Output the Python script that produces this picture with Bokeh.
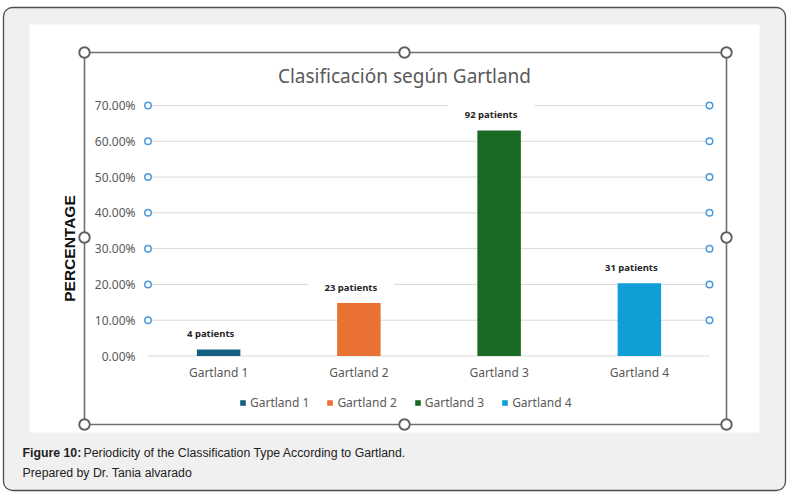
import math
from bokeh.plotting import figure
from bokeh.models import (Range1d, ColumnDataSource, PrintfTickFormatter, FixedTicker)
from bokeh.embed import file_html
from bokeh.resources import INLINE
from bokeh.core.properties import value

# ---------------- data ----------------
categories = ["Gartland 1", "Gartland 2", "Gartland 3", "Gartland 4"]
percentages = [1.8, 14.8, 63.0, 20.3]
patients = [4, 23, 92, 31]
colors = ["#156082", "#E97132", "#196B24", "#0F9ED5"]
y_ticks = [0, 10, 20, 30, 40, 50, 60, 70]
title_text = "Clasificación según Gartland"
y_label = "PERCENTAGE"
caption_bold = "Figure 10:"
caption_text = "Periodicity of the Classification Type According to Gartland."
credit_text = "Prepared by Dr. Tania alvarado"

# category slots on the x scale (one unit per category)
positions = [i + 0.5 for i in range(len(categories))]

# ---------------- layout (canvas pixels) ----------------
W, H = 800, 496
PL, PR = 148, 709          # plot-area left/right
Y0, Y70 = 355.5, 105.0     # pixel rows of 0% and 70%
ppu_y = (Y0 - Y70) / 70.0
ppu_x = (PR - PL) / len(categories)


def dx(px):
    return (px - PL) / ppu_x


def dy(py):
    return (Y0 - py) / ppu_y


p = figure(width=W, height=H,
           x_range=Range1d(dx(0), dx(W)), y_range=Range1d(dy(H), dy(0)),
           output_backend="svg", toolbar_location=None,
           min_border=0)
p.title.visible = False
p.border_fill_color = "white"
p.background_fill_color = "white"
p.outline_line_color = None
p.xgrid.visible = False
p.ygrid.visible = False

# ---------------- decorations (drawn first, underneath) ----------------
p.quad(left=dx(3), right=dx(785), top=dy(7), bottom=dy(490),
       fill_color="#f0f0f0", line_color="#4d4d4d", line_width=1.3,
       border_radius=9)
p.quad(left=dx(29), right=dx(759), top=dy(24), bottom=dy(432),
       fill_color="white", line_color=None)
p.quad(left=dx(84), right=dx(726), top=dy(52), bottom=dy(424),
       fill_alpha=0, line_color="#707070", line_width=1.6)

# gridlines across the plot area
p.segment(x0=0, x1=len(categories), y0=y_ticks, y1=y_ticks,
          line_color="#d9d9d9", line_width=1)

# gridline handles (blue rings)
ring_y = y_ticks[1:]
p.scatter(x=[dx(147.5)] * len(ring_y) + [dx(709)] * len(ring_y),
          y=ring_y + ring_y, marker="circle", size=6.5,
          fill_color="white", line_color="#4a9ae0", line_width=1.5)

# ---------------- bars ----------------
src = ColumnDataSource(dict(x=positions, cat=categories, pct=percentages,
                            color=colors,
                            label=[f"{n} patients" for n in patients]))

p.vbar(x="x", top="pct", bottom=0, width=0.31, fill_color="color",
       line_color=None, legend_field="cat", source=src)

p.text(x="x", y="pct", text="label", source=src, x_offset=-8, y_offset=-16,
       text_align="center", text_baseline="middle",
       text_font=value("Noto Sans"), text_font_size="9.5px",
       text_font_style="bold", text_color="#262626",
       background_fill_color="white",
       padding=dict(left=17, right=17, top=4, bottom=4))

# selection-frame handles
hx = [84, 404, 726, 84, 726, 84, 404, 726]
hy = [52, 52, 52, 237, 237, 424, 424, 424]
p.scatter(x=[dx(v) for v in hx], y=[dy(v) for v in hy], marker="circle",
          size=10.5, fill_color="white", line_color="#5f5f5f", line_width=1.9)

# title
p.text(x=[dx(404)], y=[dy(75)], text=[title_text], text_align="center",
       text_baseline="middle", text_font=value("Noto Sans"),
       text_font_size="19px", text_color="#595959")

# caption
p.text(x=[dx(22)], y=[dy(452)], text=[caption_bold], text_align="left",
       text_baseline="middle", text_font=value("Liberation Sans"),
       text_font_style="bold", text_font_size="12.3px", text_color="#222222")
p.text(x=[dx(83)], y=[dy(452)], text=[caption_text], text_align="left",
       text_baseline="middle", text_font=value("Liberation Sans"),
       text_font_size="12.3px", text_color="#222222")
p.text(x=[dx(22)], y=[dy(472)], text=[credit_text], text_align="left",
       text_baseline="middle", text_font=value("Liberation Sans"),
       text_font_size="12.3px", text_color="#222222")

# ---------------- axes (fixed inside the canvas) ----------------
ya = p.yaxis[0]
ya.fixed_location = 0
ya.ticker = FixedTicker(ticks=y_ticks)
ya.formatter = PrintfTickFormatter(format="%.2f%%")
ya.axis_line_color = None
ya.major_tick_line_color = None
ya.minor_tick_line_color = None
ya.major_tick_in = 0
ya.major_tick_out = 0
ya.minor_tick_out = 0
ya.major_label_text_color = "#595959"
ya.major_label_text_font = "Noto Sans"
ya.major_label_text_font_size = "12px"
ya.major_label_standoff = 13
ya.axis_label = y_label
ya.axis_label_text_font = "Liberation Sans"
ya.axis_label_text_font_style = "bold"
ya.axis_label_text_font_size = "15.5px"
ya.axis_label_text_color = "#111111"
ya.axis_label_standoff = 14

xa = p.xaxis[0]
xa.fixed_location = 0
xa.ticker = FixedTicker(ticks=positions)
xa.major_label_overrides = {pos: cat for pos, cat in zip(positions, categories)}
xa.axis_line_color = None
xa.major_tick_line_color = None
xa.minor_tick_line_color = None
xa.major_tick_in = 0
xa.major_tick_out = 0
xa.minor_tick_out = 0
xa.major_label_text_color = "#595959"
xa.major_label_text_font = "Noto Sans"
xa.major_label_text_font_size = "12px"
xa.major_label_standoff = 8

# ---------------- legend ----------------
leg = p.legend[0]
leg.location = (239, 85)
leg.orientation = "horizontal"
leg.glyph_width = 7
leg.glyph_height = 7
leg.label_standoff = 4
leg.spacing = 17
leg.padding = 0
leg.margin = 0
leg.border_line_color = None
leg.background_fill_alpha = 0
leg.label_text_font = "Noto Sans"
leg.label_text_font_size = "12px"
leg.label_text_color = "#595959"
leg.label_height = 14

open("out.html", "w").write(file_html(p, INLINE))
